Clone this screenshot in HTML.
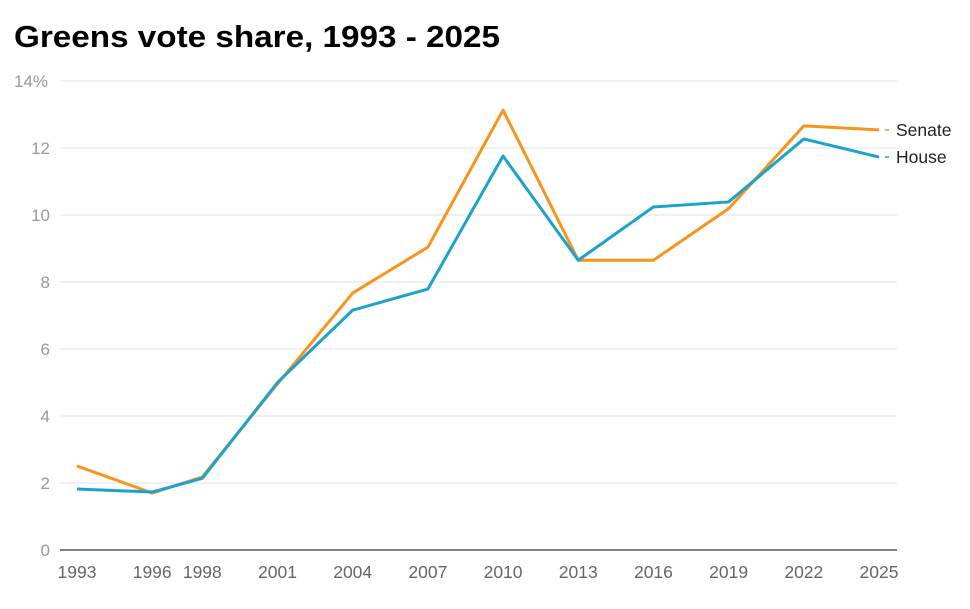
<!DOCTYPE html>
<html><head><meta charset="utf-8"><style>
body{margin:0;background:#fff;}
svg text{font-family:"Liberation Sans",sans-serif;}
</style></head><body>
<svg id="chart" width="970" height="604">
<text x="14" y="47" font-size="31" font-weight="bold" fill="#000" textLength="486" lengthAdjust="spacingAndGlyphs">Greens vote share, 1993 - 2025</text>
<g id="grid"></g><g id="xt"></g><g id="series"></g>
</svg>
<script>
const years=[1993,1996,1998,2001,2004,2007,2010,2013,2016,2019,2022,2025];
const senate=[2.51,1.70,2.18,4.96,7.67,9.04,13.13,8.65,8.65,10.19,12.66,12.54];
const house=[1.82,1.73,2.14,5.0,7.16,7.79,11.76,8.65,10.24,10.39,12.27,11.73];
const yTicks=[0,2,4,6,8,10,12,14];
const yLabels=["0","2","4","6","8","10","12","14%"];
const NS="http://www.w3.org/2000/svg";
const x=y=>77+(y-1993)*(879-77)/32;
const yy=v=>550-v*(550-81)/14;
function mk(tag,attrs,parent,text){const e=document.createElementNS(NS,tag);for(const k in attrs)e.setAttribute(k,attrs[k]);if(text!==undefined)e.textContent=text;parent.appendChild(e);return e;}
const grid=document.getElementById('grid');
yTicks.forEach((t,i)=>{
 const l=mk('line',{x1:60,x2:897,y1:yy(t),y2:yy(t),stroke:t===0?'#333':'#e2e2e2','stroke-width':t===0?1.2:1},grid);
 
 
 const tx=mk('text',{x:t===14?14:50,y:yy(t)+6,'font-size':17,fill:'#999','text-anchor':t===14?'start':'end'},grid,yLabels[i]);
 
 
});
const xt=document.getElementById('xt');
years.forEach(y=>{
 const tx=mk('text',{x:x(y),y:578,'font-size':17.5,fill:'#666','text-anchor':'middle'},xt,String(y));
 
 
});
const sg=document.getElementById('series');
[[senate,'#f7941d','Senate'],[house,'#1ba3cc','House']].forEach(([d,c,n])=>{
 const p=mk('polyline',{points:d.map((v,i)=>x(years[i])+','+yy(v)).join(' '),fill:'none',stroke:c,'stroke-width':3,'stroke-linejoin':'round'},sg);
 
 
 const lv=d[d.length-1];
 const ld=mk('line',{x1:x(2025)+6,x2:x(2025)+10,y1:yy(lv),y2:yy(lv),stroke:c,'stroke-width':1.5},sg);
 
 
 const t=mk('text',{x:896,y:yy(lv)+6,'font-size':17.5,fill:'#222'},sg,n);
 
 
});
</script>
</body></html>
